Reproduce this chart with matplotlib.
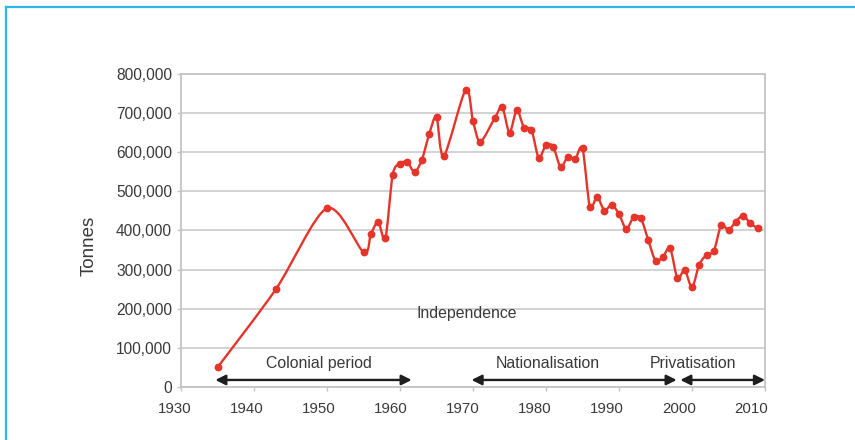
import numpy as np
import matplotlib
matplotlib.use('Agg')
import matplotlib.pyplot as plt
from matplotlib.path import Path
from matplotlib.patches import PathPatch
from matplotlib.lines import Line2D
import matplotlib.transforms as mtransforms
from matplotlib.ticker import FuncFormatter, FixedLocator

# ---------------- data ----------------
years = [1935, 1943, 1950, 1955, 1956, 1957, 1958, 1959, 1960, 1961, 1962, 1963,
         1964, 1965, 1966, 1969, 1970, 1971, 1973, 1974, 1975, 1976, 1977, 1978,
         1979, 1980, 1981, 1982, 1983, 1984, 1985, 1986, 1987, 1988, 1989, 1990,
         1991, 1992, 1993, 1994, 1995, 1996, 1997, 1998, 1999, 2000, 2001, 2002,
         2003, 2004, 2005, 2006, 2007, 2008, 2009]
tonnes = [50000, 250000, 457000, 345000, 390000, 422000, 380000, 543000, 571000,
          575000, 549000, 581000, 646000, 691000, 590000, 760000, 680000, 627000,
          688000, 716000, 650000, 708000, 662000, 658000, 586000, 619000, 614000,
          562000, 589000, 583000, 610000, 461000, 486000, 451000, 466000, 442000,
          404000, 434000, 431000, 376000, 323000, 332000, 355000, 278000, 299000,
          255000, 313000, 338000, 348000, 414000, 401000, 423000, 438000, 418000,
          406000]

year_ticks = [1930, 1940, 1950, 1960, 1970, 1980, 1990, 2000, 2010]
tonne_ticks = [0, 100000, 200000, 300000, 400000, 500000, 600000, 700000, 800000]

period_labels = ['Colonial period', 'Nationalisation', 'Privatisation']
period_start = [1934.7, 1969.8, 1998.4]
period_end = [1961.6, 1997.9, 2010.0]
period_label_x = [1948.9, 1980.2, 2000.2]
independence_label = 'Independence'
independence_x = 1969.1
independence_y = 188000
period_label_y = 61000
arrow_y = 18000

# ---------------- style ----------------
RED = '#e5352b'
TXT = '#3a3a3a'
GRID = '#cfcfcf'
plt.rcParams['font.family'] = ['Liberation Sans', 'DejaVu Sans']

fig = plt.figure(figsize=(8.55, 4.4), dpi=100)
ax = fig.add_axes([181/855, 1-387/440, (765-181)/855, (387-74)/440])

ax.set_xlim(1930, 2010)
ax.set_ylim(0, 800000)

# smooth (Excel-like) line through the data points
x = np.array(years, float)
y = np.array(tonnes, float)
n = len(x)
k = 1 / 7.0
verts = [(x[0], y[0])]
codes = [Path.MOVETO]
for i in range(n - 1):
    i0 = max(i - 1, 0)
    i3 = min(i + 2, n - 1)
    p0 = np.array([x[i0], y[i0]])
    p1 = np.array([x[i], y[i]])
    p2 = np.array([x[i + 1], y[i + 1]])
    p3 = np.array([x[i3], y[i3]])
    c1 = p1 + (p2 - p0) * k
    c2 = p2 - (p3 - p1) * k
    verts += [tuple(c1), tuple(c2), tuple(p2)]
    codes += [Path.CURVE4, Path.CURVE4, Path.CURVE4]
patch = PathPatch(Path(verts, codes), facecolor='none', edgecolor=RED,
                  lw=1.7, zorder=4, capstyle='round', joinstyle='round')
ax.add_patch(patch)
ax.plot(years, tonnes, linestyle='none', marker='o', ms=4.6,
        color=RED, mec=RED, zorder=5)

# grid & spines
ax.yaxis.set_major_locator(FixedLocator(tonne_ticks))
ax.xaxis.set_major_locator(FixedLocator(year_ticks))
ax.grid(axis='y', color=GRID, lw=1.3, zorder=0)
ax.set_axisbelow(True)
for s in ax.spines.values():
    s.set_color('#c4c4c4')
    s.set_linewidth(1.3)

ax.yaxis.set_major_formatter(FuncFormatter(lambda v, p: f'{int(v):,}'))
ax.tick_params(axis='y', length=3, width=1, color='#c4c4c4', pad=3.5,
               labelsize=11.2, labelcolor=TXT)
ax.tick_params(axis='x', length=3, width=1, color='#c4c4c4', pad=8,
               labelsize=10.8, labelcolor=TXT)
for yr, lab in zip(year_ticks, ax.get_xticklabels()):
    shift = -(6 + 0.1 * (yr - 1930)) / 100
    off = mtransforms.ScaledTranslation(shift, 0, fig.dpi_scale_trans)
    lab.set_transform(lab.get_transform() + off)

ax.set_ylabel('Tonnes', fontsize=13.5, color=TXT)
ax.yaxis.set_label_coords(-0.142, 0.452)

# period arrows and labels
for lab, x0, x1, lx in zip(period_labels, period_start, period_end, period_label_x):
    ax.annotate('', xy=(x1, arrow_y), xytext=(x0, arrow_y),
                arrowprops=dict(arrowstyle='<|-|>', color='#1e1e1e', lw=1.7,
                                mutation_scale=15, shrinkA=0, shrinkB=0),
                annotation_clip=False, zorder=6)
    ax.text(lx, period_label_y, lab, ha='center', va='center',
            fontsize=11.4, color=TXT, zorder=6)
ax.text(independence_x, independence_y, independence_label, ha='center',
        va='center', fontsize=11.4, color=TXT, zorder=6)

# blue frame (top and left)
BLUE = '#2db6ea'
fig.add_artist(Line2D([6/855, 1], [1-7/440, 1-7/440], color=BLUE, lw=1.6,
                      transform=fig.transFigure))
fig.add_artist(Line2D([6/855, 6/855], [0, 1-7/440], color=BLUE, lw=1.6,
                      transform=fig.transFigure))

fig.savefig('out.png', dpi=100)
